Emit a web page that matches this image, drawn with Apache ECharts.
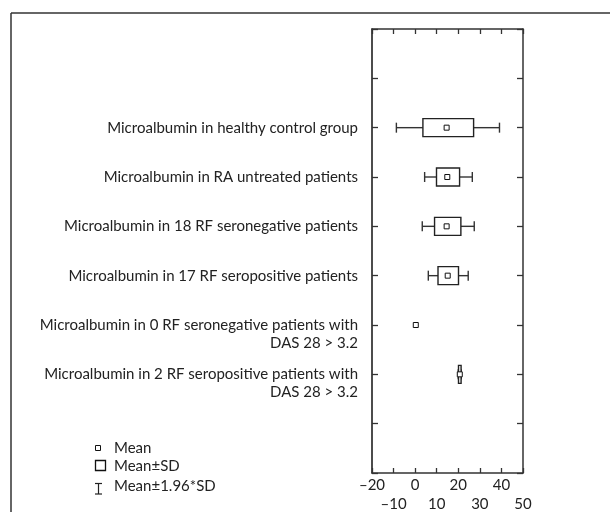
<!DOCTYPE html>
<html>
<head>
<meta charset="utf-8">
<script src="https://cdn.jsdelivr.net/npm/echarts@6/dist/echarts.min.js"></script>
<style>
html,body{margin:0;padding:0;background:#fff;}
#chart{width:610px;height:512px;}
</style>
</head>
<body>
<div id="chart"></div>
<script>
// ---- data ----
const categories = [
  'Microalbumin in healthy control group',
  'Microalbumin in RA untreated patients',
  'Microalbumin in 18 RF seronegative patients',
  'Microalbumin in 17 RF seropositive patients',
  'Microalbumin in 0 RF seronegative patients with\nDAS 28 > 3.2',
  'Microalbumin in 2 RF seropositive patients with\nDAS 28 > 3.2'
];
const rowPositions = [2, 3, 4, 5, 6, 7];
const meanValues = [14.6, 14.9, 14.6, 15.1, 0.3, 20.7];
const sdLow      = [3.6, 9.9, 9.0, 10.6, null, 20.1];
const sdHigh     = [27.1, 20.6, 21.2, 20.1, null, 21.3];
const ciLow      = [-8.7, 4.4, 3.3, 6.1, null, 20.0];
const ciHigh     = [39.1, 26.5, 27.4, 24.6, null, 21.4];
const xTopRowLabels = [-20, 0, 20, 40];
const xBottomRowLabels = [-10, 10, 30, 50];
const legendLabels = ['Mean', 'Mean\u00b1SD', 'Mean\u00b11.96*SD'];

const FONT = 'Lato';
const FS = 15;
const rows = categories.map((c, i) => [rowPositions[i], ciLow[i], sdLow[i], meanValues[i], sdHigh[i], ciHigh[i]]);

function fmtNum(v) { return String(v).replace('-', '\u2013'); }

const chart = echarts.init(document.getElementById('chart'), null, {renderer: 'canvas'});

function whiskerItem(params, api) {
  const r = api.value(0), lo = api.value(1), sl = api.value(2), sh = api.value(4), hi = api.value(5);
  if (isNaN(lo) || isNaN(hi)) return null;
  const pLo = api.coord([lo, r]), pSl = api.coord([sl, r]), pSh = api.coord([sh, r]), pHi = api.coord([hi, r]);
  const st = {stroke: '#333', lineWidth: 1.4};
  const capH = 5;
  return {type: 'group', children: [
    {type: 'line', shape: {x1: pLo[0], y1: pLo[1], x2: pSl[0], y2: pSl[1]}, style: st},
    {type: 'line', shape: {x1: pSh[0], y1: pSh[1], x2: pHi[0], y2: pHi[1]}, style: st},
    {type: 'line', shape: {x1: pLo[0], y1: pLo[1] - capH, x2: pLo[0], y2: pLo[1] + capH}, style: st},
    {type: 'line', shape: {x1: pHi[0], y1: pHi[1] - capH, x2: pHi[0], y2: pHi[1] + capH}, style: st}
  ]};
}
function boxItem(params, api) {
  const r = api.value(0), sl = api.value(2), sh = api.value(4);
  if (isNaN(sl) || isNaN(sh)) return null;
  const a = api.coord([sl, r]), b = api.coord([sh, r]);
  const h = 18;
  return {type: 'rect', shape: {x: a[0], y: a[1] - h / 2, width: b[0] - a[0], height: h},
    style: {fill: '#fff', stroke: '#222', lineWidth: 1.4}};
}
function meanItem(params, api) {
  const r = api.value(0), m = api.value(3);
  if (isNaN(m)) return null;
  const p = api.coord([m, r]);
  const s = 5;
  return {type: 'rect', shape: {x: p[0] - s / 2, y: p[1] - s / 2, width: s, height: s},
    style: {fill: '#fff', stroke: '#111', lineWidth: 1}};
}

const axisLineStyle = {color: '#333', width: 1.5};

const option = {
  animation: false,
  backgroundColor: '#fff',
  textStyle: {fontFamily: FONT},
  grid: {left: 372, right: 87, top: 29, bottom: 38, containLabel: false},
  xAxis: [
    {
      type: 'value', position: 'bottom', min: -20, max: 50, interval: 10,
      axisLine: {show: true, onZero: false, lineStyle: axisLineStyle},
      axisTick: {show: true, inside: true, length: 5, lineStyle: {color: '#333', width: 1.3}},
      splitLine: {show: false},
      axisLabel: {
        show: true, showMinLabel: true, showMaxLabel: true, hideOverlap: false, margin: 5,
        fontFamily: FONT, fontSize: FS, color: '#222',
        formatter: function (v) {
          return xTopRowLabels.indexOf(v) >= 0 ? fmtNum(v) : '';
        }
      }
    },
    {
      type: 'value', position: 'top', min: -20, max: 50, interval: 10,
      axisLine: {show: true, onZero: false, lineStyle: axisLineStyle},
      axisTick: {show: true, inside: true, length: 5, lineStyle: {color: '#333', width: 1.3}},
      splitLine: {show: false}, axisLabel: {show: false}
    },
    {
      type: 'value', position: 'bottom', offset: 19, min: -20, max: 50, interval: 10,
      axisLine: {show: false, onZero: false}, axisTick: {show: false}, splitLine: {show: false},
      axisLabel: {
        show: true, showMinLabel: true, showMaxLabel: true, hideOverlap: false, margin: 5,
        fontFamily: FONT, fontSize: FS, color: '#222',
        formatter: function (v) {
          return xBottomRowLabels.indexOf(v) >= 0 ? fmtNum(v) : '';
        }
      }
    }
  ],
  yAxis: [
    {
      type: 'value', position: 'left', inverse: true, min: 0, max: 9, interval: 1,
      axisLine: {show: true, onZero: false, lineStyle: {color: '#111', width: 1.5}},
      axisTick: {show: true, inside: true, length: 6, lineStyle: {color: '#333', width: 1.3}},
      splitLine: {show: false},
      axisLabel: {
        show: true, margin: 14, fontFamily: FONT, fontSize: FS, color: '#222', lineHeight: 18,
        align: 'right', verticalAlign: 'middle', padding: [0, 0, 10, 0],
        formatter: function (v) {
          const i = rowPositions.indexOf(v);
          if (i < 0) return '';
          const t = categories[i];
          return t.indexOf('\n') >= 0 ? '\n' + t : t;
        }
      }
    },
    {
      type: 'value', position: 'right', inverse: true, min: 0, max: 9, interval: 1,
      axisLine: {show: true, onZero: false, lineStyle: axisLineStyle},
      axisTick: {show: true, inside: true, length: 6, lineStyle: {color: '#333', width: 1.3}},
      splitLine: {show: false}, axisLabel: {show: false}
    }
  ],
  series: [
    {name: legendLabels[2], type: 'custom', renderItem: whiskerItem, data: rows, encode: {x: [1, 2, 4, 5], y: 0}, z: 2},
    {name: legendLabels[1], type: 'custom', renderItem: boxItem, data: rows, encode: {x: [2, 4], y: 0}, z: 3},
    {name: legendLabels[0], type: 'custom', renderItem: meanItem, data: rows, encode: {x: 3, y: 0}, z: 4}
  ],
  graphic: [
    // outer frame (left and top edges)
    {type: 'line', shape: {x1: 11, y1: 13, x2: 11, y2: 512}, style: {stroke: '#333', lineWidth: 1.5}},
    {type: 'line', shape: {x1: 11, y1: 13, x2: 610, y2: 13}, style: {stroke: '#333', lineWidth: 1.5}},
    // legend
    {type: 'rect', shape: {x: 95.5, y: 445.5, width: 5, height: 5}, style: {fill: '#fff', stroke: '#111', lineWidth: 1}},
    {type: 'rect', shape: {x: 95.5, y: 460.5, width: 10, height: 10}, style: {fill: '#fff', stroke: '#111', lineWidth: 1.3}},
    {type: 'line', shape: {x1: 95, y1: 483.5, x2: 102, y2: 483.5}, style: {stroke: '#222', lineWidth: 1.2}},
    {type: 'line', shape: {x1: 98.5, y1: 483.5, x2: 98.5, y2: 494}, style: {stroke: '#222', lineWidth: 1.2}},
    {type: 'line', shape: {x1: 95, y1: 494, x2: 102, y2: 494}, style: {stroke: '#222', lineWidth: 1.2}},
    {type: 'text', x: 114, y: 448, style: {text: legendLabels[0], fontFamily: FONT, fontSize: FS, fill: '#222', verticalAlign: 'middle'}},
    {type: 'text', x: 114, y: 466, style: {text: legendLabels[1], fontFamily: FONT, fontSize: FS, fill: '#222', verticalAlign: 'middle'}},
    {type: 'text', x: 114, y: 486, style: {text: legendLabels[2], fontFamily: FONT, fontSize: FS, fill: '#222', verticalAlign: 'middle'}}
  ]
};
chart.setOption(option);
</script>
</body>
</html>
